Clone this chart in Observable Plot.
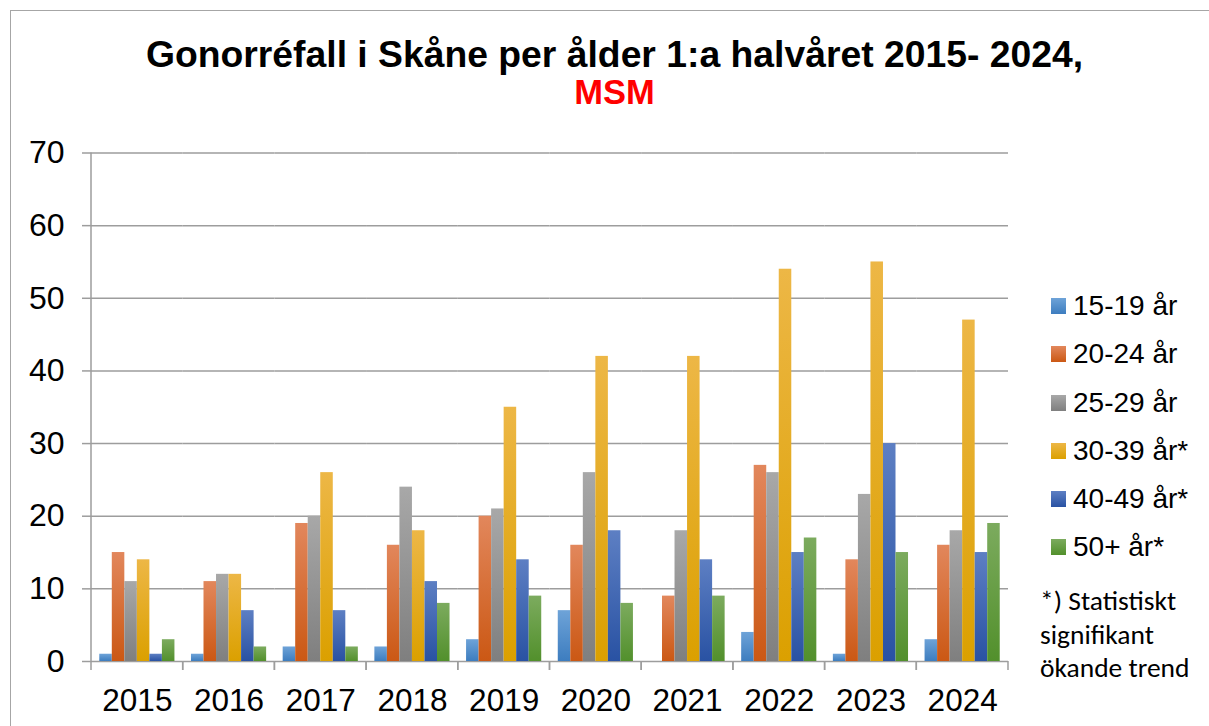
<!DOCTYPE html>
<html>
<head>
<meta charset="utf-8">
<script src="https://cdn.jsdelivr.net/npm/d3@7"></script>
<script src="https://cdn.jsdelivr.net/npm/@observablehq/plot@0.6"></script>
<style>
  html, body { margin: 0; padding: 0; background: #fff; overflow: hidden; }
  #wrap { position: relative; width: 1209px; height: 726px; font-family: "Liberation Sans", Arial, sans-serif; }
  #border { position: absolute; left: 10px; top: 10px; width: 1300px; height: 800px; border-left: 1.5px solid #a6a6a6; border-top: 1.5px solid #a6a6a6; }
  #title { position: absolute; left: 0; width: 1229px; top: 36px; text-align: center; font-weight: bold; font-size: 37.3px; line-height: 37.3px; color: #000; }
  #sub { position: absolute; left: 0; width: 1229px; top: 75px; text-align: center; font-weight: bold; font-size: 34.5px; line-height: 34.5px; color: #ff0000; }
  #head { position: relative; height: 130px; }
  #legend { position: absolute; left: 1051px; top: 292px; }
  .item { position: relative; height: 48.3px; font-size: 28px; line-height: 28px; color: #000; white-space: nowrap; }
  .sw { position: absolute; left: 0; top: 6px; width: 15px; height: 16px; }
  .lab { position: absolute; left: 22px; top: 0; }
  #note { position: absolute; left: 1040px; top: 584px; font-family: Carlito, Lato, sans-serif; font-size: 27.5px; line-height: 33.5px; color: #000; white-space: nowrap; }
</style>
</head>
<body>
<div id="wrap">
  <div id="border"></div>
  <div id="head">
    <div id="title">Gonorréfall i Skåne per ålder 1:a halvåret 2015- 2024,</div>
    <div id="sub">MSM</div>
  </div>
  <div id="chart"></div>
  <div id="legend"></div>
  <div id="note"></div>
</div>
<svg width="0" height="0" style="position:absolute">
  <defs id="grads"></defs>
</svg>
<script>
// ---- data ----
const years = ["2015", "2016", "2017", "2018", "2019", "2020", "2021", "2022", "2023", "2024"];
const ages = ["15-19 år", "20-24 år", "25-29 år", "30-39 år*", "40-49 år*", "50+ år*"];
const age15_19 = [1, 1, 2, 2, 3, 7, 0, 4, 1, 3];
const age20_24 = [15, 11, 19, 16, 20, 16, 9, 27, 14, 16];
const age25_29 = [11, 12, 20, 24, 21, 26, 18, 26, 23, 18];
const age30_39 = [14, 12, 26, 18, 35, 42, 42, 54, 55, 47];
const age40_49 = [1, 7, 7, 11, 14, 18, 14, 15, 30, 15];
const age50plus = [3, 2, 2, 8, 9, 8, 9, 17, 15, 19];
const yTicks = [0, 10, 20, 30, 40, 50, 60, 70];
const noteText = ["*) Statistiskt", "signifikant", "ökande trend"];

// ---- styling ----
const gradStops = [
  ["#6ea3d8", "#3d7dbf"],
  ["#e2875c", "#cb5814"],
  ["#a8a8a8", "#7f7f7f"],
  ["#edb746", "#dba000"],
  ["#5d7fc3", "#2952a3"],
  ["#7cab5e", "#52902c"]
];
const gray = "#9d9d9d";

const defs = d3.select("#grads");
gradStops.forEach(([top, bottom], i) => {
  const g = defs.append("linearGradient").attr("id", "g" + i)
    .attr("x1", 0).attr("y1", 0).attr("x2", 0).attr("y2", 1);
  g.append("stop").attr("offset", "0%").attr("stop-color", top);
  g.append("stop").attr("offset", "100%").attr("stop-color", bottom);
});

const series = [age15_19, age20_24, age25_29, age30_39, age40_49, age50plus];
const table = [];
years.forEach((yr, j) => ages.forEach((a, i) => table.push({year: yr, age: a, value: series[i][j]})));

let calls = 0;
function boundaryLines(index, scales, values, dims) {
  const {marginLeft, marginRight, width} = dims;
  const y0 = scales.y(0);
  const yTop = scales.y(yTicks[yTicks.length - 1]);
  let first;
  if (index && index.fx !== undefined) first = index.fx === years[0];
  else if (index && index.fi !== undefined) first = index.fi === 0;
  else first = calls === 0;
  calls++;
  const g = d3.create("svg:g").attr("stroke", gray).attr("stroke-width", 1.5);
  const left = marginLeft, right = width - marginRight;
  g.append("line").attr("x1", left).attr("x2", left).attr("y1", first ? yTop : y0).attr("y2", y0 + 9);
  g.append("line").attr("x1", right).attr("x2", right).attr("y1", y0).attr("y2", y0 + 9);
  return g.node();
}

const chart = Plot.plot({
  width: 1209,
  height: 596,
  marginTop: 22.5,
  marginBottom: 65,
  marginLeft: 91,
  marginRight: 201,
  style: {fontFamily: "'Liberation Sans', Arial, sans-serif", color: "#000", background: "transparent", overflow: "visible"},
  fx: {domain: years, padding: 0, round: false, label: null},
  x: {domain: ages, paddingInner: 0, paddingOuter: 0.66, round: false, axis: null},
  y: {domain: [0, 70], label: null},
  color: {type: "ordinal", domain: ages, range: ages.map((_, i) => `url(#g${i})`)},
  marks: [
    Plot.gridY(yTicks, {stroke: gray, strokeOpacity: 1, strokeWidth: 1.5}),
    Plot.barY(table, {fx: "year", x: "age", y: "value", fill: "age"}),
    boundaryLines,
    Plot.axisY(yTicks, {tickSize: 9, tickPadding: 18, stroke: gray, strokeWidth: 1.5, fill: "#000", fontSize: 32, label: null}),
    Plot.axisFx({anchor: "bottom", tickSize: 0, tickPadding: 27, fontSize: 31.5, fill: "#000", label: null})
  ]
});
document.getElementById("chart").appendChild(chart);

// ---- legend ----
const leg = d3.select("#legend");
ages.forEach((a, i) => {
  const it = leg.append("div").attr("class", "item");
  it.append("div").attr("class", "sw")
    .style("background", `linear-gradient(${gradStops[i][0]}, ${gradStops[i][1]})`);
  it.append("div").attr("class", "lab").text(a);
});
d3.select("#note").html(noteText.join("<br>"));
</script>
</body>
</html>
